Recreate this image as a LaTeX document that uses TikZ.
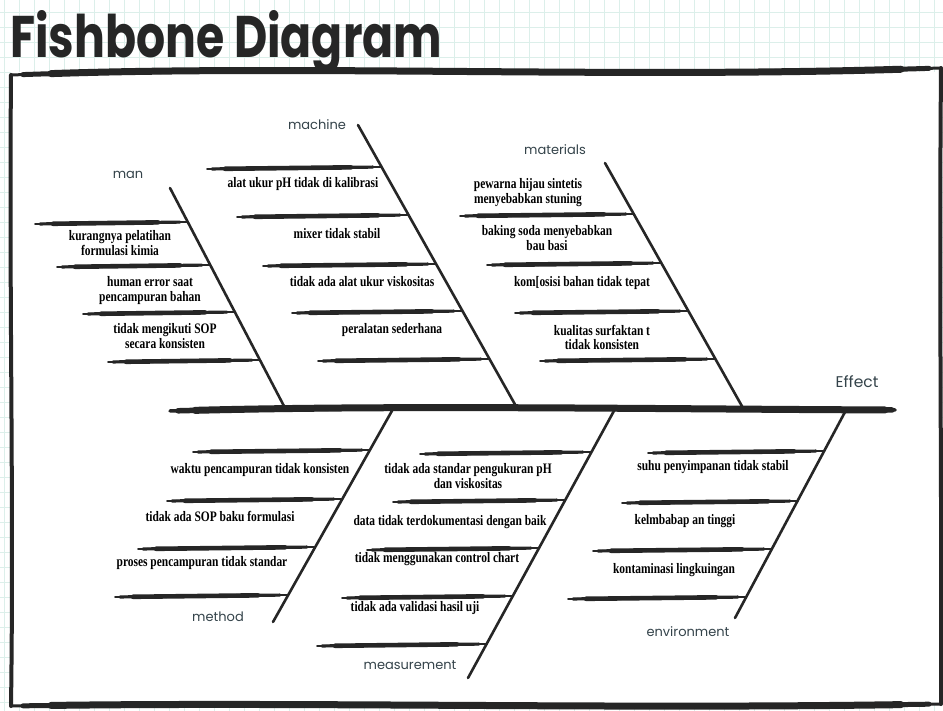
\documentclass[tikz,border=0pt]{standalone}
\usepackage{fontspec}
\usepackage{graphicx}
\setmainfont{Liberation Serif}
\newfontfamily\titlefont{Poppins}
\newfontfamily\labelfont{Poppins}
\definecolor{ink}{HTML}{262626}
\definecolor{gridc}{HTML}{DCEFEA}
\definecolor{lab}{HTML}{34434A}
\newcommand{\causetxt}[1]{\scalebox{0.79}[1]{\begin{tabular}{@{}c@{}}#1\end{tabular}}}
\tikzset{
  gridline/.style={draw=gridc, line width=0.7pt},
  brush/.style={draw=ink, line width=1.8pt, line cap=round,
    preaction={draw=ink, line width=3.2pt, line cap=round, shorten <=5pt, shorten >=8pt},
    preaction={draw=ink, line width=4.6pt, line cap=round, shorten <=18pt, shorten >=30pt}},
  bone/.style={draw=ink, line width=2.6pt, line cap=round},
  spine/.style={draw=ink, line width=3.5pt, line cap=round,
    preaction={draw=ink, line width=5.5pt, line cap=round, shorten <=8pt, shorten >=3pt},
    preaction={draw=ink, line width=7pt, line cap=round, shorten <=25pt, shorten >=10pt}},
  framev/.style={draw=ink, line width=4pt, line cap=round},
  frameh/.style={draw=ink, line width=3pt, line cap=round,
    preaction={draw=ink, line width=5pt, line cap=round, shorten <=12pt, shorten >=12pt},
    preaction={draw=ink, line width=7pt, line cap=round, shorten <=40pt, shorten >=40pt}},
  cause/.style={font=\fontsize{14.5}{13.5}\selectfont\bfseries, text=black, inner sep=0pt, align=center},
  cat/.style={font=\labelfont\fontsize{13}{13}\selectfont, text=lab, inner sep=0pt},
}
\begin{document}
\begin{tikzpicture}[x=1pt,y=-1pt]
\useasboundingbox (0,0) rectangle (943,711);
\fill[white] (0,0) rectangle (943,711);
\foreach \i in {4,19,...,943} \draw[gridline] (\i,0) -- (\i,711);
\foreach \j in {12,27,...,711} \draw[gridline] (0,\j) -- (943,\j);
\fill[white] (11,72) rectangle (940,705);

% frame
\coordinate (ftl) at (11,75);
\coordinate (ftr) at (941,68);
\coordinate (fbr) at (941,704);
\coordinate (fbl) at (11,706);
\draw[frameh] (ftl) .. controls (300,65) and (620,78) .. (ftr);
\draw[framev] (ftl) .. controls (9,300) and (14,500) .. (fbl);
\draw[framev] (ftr) .. controls (939,300) and (942,500) .. (fbr);
\draw[frameh] (fbl) .. controls (300,702) and (620,709) .. (fbr);

% title
\node[anchor=base west, inner sep=0pt, text=ink] (title) at (10,58)
  {\resizebox{432pt}{47pt}{\titlefont\bfseries Fishbone Diagram}};

% spine
\coordinate (sp0) at (170,411);
\coordinate (sp1) at (895,410);
\draw[spine] (sp0) .. controls (400,405) and (650,409) .. (sp1);
\node[cat, font=\labelfont\fontsize{15.5}{15.5}\selectfont] (effect) at (857,382) {Effect};

% bones
\coordinate (manT) at (170,188);  \coordinate (manB) at (285,408);
\coordinate (macT) at (358,125);  \coordinate (macB) at (517,408);
\coordinate (matT) at (605,163);  \coordinate (matB) at (743,408);
\coordinate (metT) at (393,409);  \coordinate (metB) at (273,622);
\coordinate (mesT) at (615,409);  \coordinate (mesB) at (468,678);
\coordinate (envT) at (845,412);  \coordinate (envB) at (735,618);
\draw[bone] (manT) -- (manB);
\draw[bone] (macT) -- (macB);
\draw[bone] (matT) -- (matB);
\draw[bone] (metT) -- (metB);
\draw[bone] (mesT) -- (mesB);
\draw[bone] (envT) -- (envB);

% category labels
\node[cat] (lman) at (128,175) {man};
\node[cat] (lmac) at (317,125) {machine};
\node[cat] (lmat) at (555,150) {materials};
\node[cat] (lmet) at (218,617) {method};
\node[cat] (lmes) at (410,665) {measurement};
\node[cat] (lenv) at (688,632) {environment};

% ribs: man
\coordinate (a1l) at (35,224);  \coordinate (a1r) at (188,222);
\coordinate (a2l) at (57,267);  \coordinate (a2r) at (210,265);
\coordinate (a3l) at (83,314);  \coordinate (a3r) at (235,312);
\coordinate (a4l) at (108,362); \coordinate (a4r) at (260,360);
\foreach \k in {1,...,4} \draw[brush] (a\k l) -- (a\k r);
% ribs: machine
\coordinate (b1l) at (207,169); \coordinate (b1r) at (381,167);
\coordinate (b2l) at (237,217); \coordinate (b2r) at (408,215);
\coordinate (b3l) at (263,266); \coordinate (b3r) at (436,264);
\coordinate (b4l) at (292,313); \coordinate (b4r) at (462,311);
\coordinate (b5l) at (318,361); \coordinate (b5r) at (489,359);
\foreach \k in {1,...,5} \draw[brush] (b\k l) -- (b\k r);
% ribs: materials
\coordinate (c1l) at (460,216); \coordinate (c1r) at (634,214);
\coordinate (c2l) at (487,265); \coordinate (c2r) at (661,263);
\coordinate (c3l) at (515,313); \coordinate (c3r) at (688,311);
\coordinate (c4l) at (540,361); \coordinate (c4r) at (715,359);
\foreach \k in {1,...,4} \draw[brush] (c\k l) -- (c\k r);
% ribs: method
\coordinate (d1l) at (193,452); \coordinate (d1r) at (370,450);
\coordinate (d2l) at (167,501); \coordinate (d2r) at (342,499);
\coordinate (d3l) at (138,549); \coordinate (d3r) at (315,547);
\coordinate (d4l) at (115,597); \coordinate (d4r) at (288,595);
\foreach \k in {1,...,4} \draw[brush] (d\k l) -- (d\k r);
% ribs: measurement
\coordinate (e1l) at (420,454); \coordinate (e1r) at (591,452);
\coordinate (e2l) at (393,502); \coordinate (e2r) at (565,500);
\coordinate (e3l) at (367,550); \coordinate (e3r) at (539,548);
\coordinate (e4l) at (342,598); \coordinate (e4r) at (513,596);
\coordinate (e5l) at (317,646); \coordinate (e5r) at (487,644);
\foreach \k in {1,...,5} \draw[brush] (e\k l) -- (e\k r);
% ribs: environment
\coordinate (f1l) at (648,453); \coordinate (f1r) at (824,451);
\coordinate (f2l) at (622,503); \coordinate (f2r) at (798,501);
\coordinate (f3l) at (593,551); \coordinate (f3r) at (772,549);
\coordinate (f4l) at (568,599); \coordinate (f4r) at (746,597);
\foreach \k in {1,...,4} \draw[brush] (f\k l) -- (f\k r);

% causes: man
\node[cause] (t11) at (120,245) {\causetxt{kurangnya pelatihan\\formulasi kimia}};
\node[cause] (t12) at (150,291) {\causetxt{human error saat\\pencampuran bahan}};
\node[cause] (t13) at (165,338) {\causetxt{tidak mengikuti SOP\\secara konsisten}};
% causes: machine
\node[cause] (t21) at (303,184) {\causetxt{alat ukur pH tidak di kalibrasi}};
\node[cause] (t22) at (337,235) {\causetxt{mixer tidak stabil}};
\node[cause] (t23) at (362,283) {\causetxt{tidak ada alat ukur viskositas}};
\node[cause] (t24) at (392,330) {\causetxt{peralatan sederhana}};
% causes: materials
\node[cause] (t31) at (528,193) {\causetxt{pewarna hijau sintetis\\menyebabkan stuning}};
\node[cause] (t32) at (547,240) {\causetxt{baking soda menyebabkan\\bau basi}};
\node[cause] (t33) at (582,283) {\causetxt{kom[osisi bahan tidak tepat}};
\node[cause] (t34) at (602,339) {\causetxt{kualitas surfaktan t\\tidak konsisten}};
% causes: method
\node[cause] (t41) at (260,470) {\causetxt{waktu pencampuran tidak konsisten}};
\node[cause] (t42) at (220,518) {\causetxt{tidak ada SOP baku formulasi}};
\node[cause] (t43) at (202,563) {\causetxt{proses pencampuran tidak standar}};
% causes: measurement
\node[cause] (t51) at (468,478) {\causetxt{tidak ada standar pengukuran pH\\dan viskositas}};
\node[cause] (t52) at (450,522) {\causetxt{data tidak terdokumentasi dengan baik}};
\node[cause] (t53) at (437,559) {\causetxt{tidak menggunakan control chart}};
\node[cause] (t54) at (415,608) {\causetxt{tidak ada validasi hasil uji}};
% causes: environment
\node[cause] (t61) at (713,467) {\causetxt{suhu penyimpanan tidak stabil}};
\node[cause] (t62) at (685,521) {\causetxt{kelmbabap an tinggi}};
\node[cause] (t63) at (674,570) {\causetxt{kontaminasi lingkuingan}};
\end{tikzpicture}
\end{document}
